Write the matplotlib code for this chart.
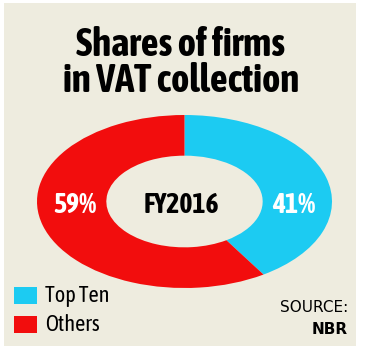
import matplotlib
matplotlib.use("Agg")
import matplotlib.pyplot as plt
from matplotlib.patches import Rectangle

# data
labels = ["Top Ten", "Others"]
shares = [41, 59]
share_labels = ["41%", "59%"]
colors = ["#1ccbf2", "#f20d0d"]
year = "FY2016"
title = "Shares of firms\nin VAT collection"
source = "NBR"

BG = "#eeecdf"
COND = ["Asap Condensed", "DejaVu Sans"]
plt.rcParams["font.family"] = COND

W, H = 368, 350
fig = plt.figure(figsize=(W / 100, H / 100), dpi=100)
fig.patch.set_facecolor("white")

# beige panel with thin white margin
fig.patches.append(
    Rectangle((4 / W, 4 / H), 352 / W, 343 / H, transform=fig.transFigure,
              facecolor=BG, edgecolor="none", zorder=-1)
)

fig.text(181 / W, 1 - 63 / H, title, ha="center", va="center",
         fontsize=28, fontweight="bold", linespacing=0.95)

# donut, stretched into an ellipse
ax = fig.add_axes([37 / W, 1 - 288 / H, 295 / W, 173 / H])
ax.pie(shares, colors=colors, startangle=90, counterclock=False,
       wedgeprops=dict(width=0.47, edgecolor="none"))
ax.set_aspect("auto")
ax.set_xlim(-1, 1)
ax.set_ylim(-1, 1)
ax.axis("off")

ax.text(0.74, -0.05, share_labels[0], ha="center", va="center",
        color="white", fontsize=20, fontweight="bold")
ax.text(-0.74, -0.05, share_labels[1], ha="center", va="center",
        color="white", fontsize=20, fontweight="bold")
ax.text(-0.02, -0.05, year, ha="center", va="center",
        color="black", fontsize=20, fontweight="bold")

# legend
for i, (lab, col) in enumerate(zip(labels, colors)):
    y = 296 + i * 29
    fig.patches.append(
        Rectangle((14 / W, 1 - (y + 8) / H), 23 / W, 17 / H,
                  transform=fig.transFigure, facecolor=col, edgecolor="none")
    )
    fig.text(45 / W, 1 - y / H, lab, ha="left", va="center", fontsize=16)

fig.text(348 / W, 1 - 308 / H, "SOURCE:", ha="right", va="center",
         fontsize=11, family="DejaVu Sans")
fig.text(348 / W, 1 - 329 / H, source, ha="right", va="center",
         fontsize=11, fontweight="bold", family="DejaVu Sans")

fig.savefig("out.png", dpi=100, facecolor=fig.get_facecolor())
